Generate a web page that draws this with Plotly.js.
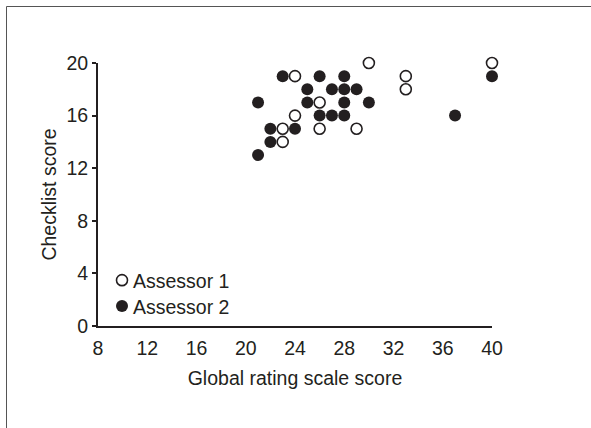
<!DOCTYPE html>
<html>
<head>
<meta charset="utf-8">
<script src="https://cdn.plot.ly/plotly-3.0.1.min.js"></script>
<style>
  html, body { margin: 0; padding: 0; background: #fff; }
  #chart { width: 591px; height: 428px; }
</style>
</head>
<body>
<div id="chart"></div>
<script>
// Assessor 1 (open circles)
const a1Global = [24, 30, 33, 40, 33, 26, 24, 23, 26, 29, 23];
const a1Check  = [19, 20, 19, 20, 18, 17, 16, 15, 15, 15, 14];
// Assessor 2 (filled circles)
const a2Global = [23, 26, 28, 40, 25, 27, 28, 29, 21, 25, 28, 30, 26, 27, 28, 37, 22, 24, 22, 21];
const a2Check  = [19, 19, 19, 19, 18, 18, 18, 18, 17, 17, 17, 17, 16, 16, 16, 16, 15, 15, 14, 13];

const seriesNames = ['Assessor 1', 'Assessor 2'];
const xTicks = [8, 12, 16, 20, 24, 28, 32, 36, 40];
const yTicks = [0, 4, 8, 12, 16, 20];

const ink = '#231f20';
const FONT = 'Liberation Sans, Arial, sans-serif';
const FS = 19.5;

const M = { l: 98, r: 99, t: 63, b: 102 };
const W = 591, H = 428;
const pw = W - M.l - M.r, ph = H - M.t - M.b;
const px = v => (v - M.l) / pw;          // pixel -> paper x
const py = v => (H - M.b - v) / ph;      // pixel -> paper y

const traces = [
  {
    x: a1Global, y: a1Check, name: seriesNames[0],
    type: 'scatter', mode: 'markers', cliponaxis: false,
    marker: { symbol: 'circle-open', size: 11, color: ink, line: { width: 1.6, color: ink } }
  },
  {
    x: a2Global, y: a2Check, name: seriesNames[1],
    type: 'scatter', mode: 'markers', cliponaxis: false,
    marker: { symbol: 'circle', size: 12, color: ink, line: { width: 0 } }
  }
];

const layout = {
  width: W, height: H,
  margin: M,
  paper_bgcolor: '#fff', plot_bgcolor: '#fff',
  font: { family: FONT, size: FS, color: ink },
  showlegend: true,
  legend: {
    x: px(102), y: py(261), xanchor: 'left', yanchor: 'top',
    bgcolor: 'rgba(0,0,0,0)', borderwidth: 0,
    font: { family: FONT, size: FS, color: ink },
    tracegroupgap: 0
  },
  xaxis: {
    range: [8, 40], tickmode: 'array', tickvals: xTicks, ticktext: xTicks.map(String),
    showgrid: false, zeroline: false,
    showline: true, linecolor: ink, linewidth: 2,
    ticks: '', ticklabelstandoff: 4,
    tickfont: { family: FONT, size: FS, color: ink },
    title: { text: 'Global rating scale score', font: { family: FONT, size: FS, color: ink }, standoff: 13 },
    fixedrange: true
  },
  yaxis: {
    range: [0, 20], tickmode: 'array', tickvals: yTicks, ticktext: yTicks.map(String),
    showgrid: false, zeroline: false,
    showline: true, linecolor: ink, linewidth: 2,
    ticks: 'outside', ticklen: 4, tickwidth: 2, tickcolor: ink,
    tickfont: { family: FONT, size: FS, color: ink },
    title: { text: 'Checklist score', font: { family: FONT, size: FS, color: ink }, standoff: 5 },
    fixedrange: true
  },
  shapes: [
    {
      type: 'rect', xref: 'paper', yref: 'paper', layer: 'below',
      x0: px(6.5), x1: px(700), y0: py(700), y1: py(6.5),
      line: { color: '#555', width: 1 }, fillcolor: 'rgba(0,0,0,0)'
    }
  ]
};

Plotly.newPlot('chart', traces, layout, { staticPlot: true, displayModeBar: false }).then(gd => {
  // bring legend text closer to its symbol, and rows closer together, as in the original figure
  gd.querySelectorAll('.legend .legendtext').forEach(t => t.setAttribute('x', 31));
  const items = gd.querySelectorAll('.legend .traces');
  items.forEach((g, i) => {
    const tr = g.getAttribute('transform') || '';
    const m = tr.match(/translate\(\s*([-\d.]+)[ ,]+([-\d.]+)\s*\)/);
    if (m) {
      const x = parseFloat(m[1]), y = parseFloat(m[2]) - i * 2.5;
      g.setAttribute('transform', 'translate(' + x + ',' + y + ')');
    }
  });
});
</script>
</body>
</html>
